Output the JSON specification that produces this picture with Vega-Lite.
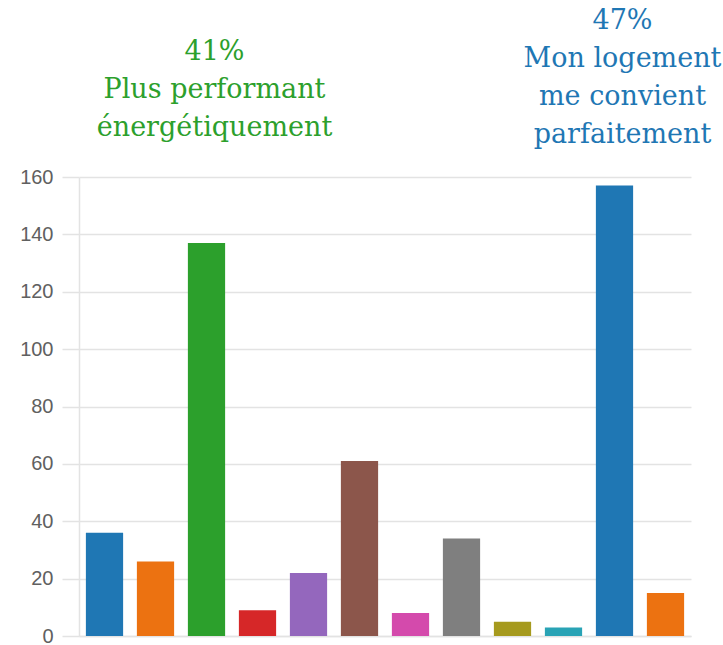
{
  "$schema": "https://vega.github.io/schema/vega-lite/v6.json",
  "width": 612,
  "height": 459,
  "autosize": {"type": "none"},
  "padding": {"left": 79, "top": 177, "right": 32, "bottom": 9},
  "background": "white",
  "config": {"view": {"stroke": null}},
  "layer": [
    {
      "data": {
        "values": [
          {"cat": "1", "value": 36},
          {"cat": "2", "value": 26},
          {"cat": "3", "value": 137},
          {"cat": "4", "value": 9},
          {"cat": "5", "value": 22},
          {"cat": "6", "value": 61},
          {"cat": "7", "value": 8},
          {"cat": "8", "value": 34},
          {"cat": "9", "value": 5},
          {"cat": "10", "value": 3},
          {"cat": "11", "value": 157},
          {"cat": "12", "value": 15}
        ]
      },
      "mark": {"type": "bar"},
      "encoding": {
        "x": {
          "field": "cat", "type": "nominal", "sort": null,
          "scale": {"paddingInner": 0.27, "paddingOuter": 0.135},
          "axis": {"labels": false, "ticks": false, "title": null, "domainColor": "#e3e3e3", "domainWidth": 1.5}
        },
        "y": {
          "field": "value", "type": "quantitative",
          "scale": {"domain": [0, 160], "nice": false},
          "axis": {
            "values": [0, 20, 40, 60, 80, 100, 120, 140, 160],
            "title": null,
            "grid": true, "gridColor": "#e3e3e3", "gridWidth": 1.5,
            "tickSize": 17, "tickColor": "#e3e3e3", "tickWidth": 1.5,
            "domainColor": "#e3e3e3", "domainWidth": 1.5,
            "labelColor": "#606060", "labelFontSize": 20, "labelFont": "Liberation Sans",
            "labelPadding": 9
          }
        },
        "color": {
          "field": "cat", "type": "nominal", "sort": null, "legend": null,
          "scale": {
            "domain": ["1","2","3","4","5","6","7","8","9","10","11","12"],
            "range": ["#1f77b4","#ec7211","#2ca02c","#d62728","#9467bd","#8c564b","#d44aac","#7f7f7f","#a69a1e","#29a3b5","#1f77b4","#ec7211"]
          }
        }
      }
    },
    {
      "data": {
        "values": [
          {"cat": "3", "pos": 208, "label": "41%\nPlus performant\nénergétiquement"},
          {"cat": "11", "pos": 219, "label": "47%\nMon logement\nme convient\nparfaitement"}
        ]
      },
      "mark": {"type": "text", "lineBreak": "\n", "lineHeight": 38, "baseline": "top", "align": "center", "font": "DejaVu Serif", "fontSize": 27, "dx": 8},
      "encoding": {
        "x": {"field": "cat", "type": "nominal", "sort": null},
        "y": {"field": "pos", "type": "quantitative"},
        "text": {"field": "label"},
        "color": {"field": "cat", "type": "nominal", "legend": null}
      }
    }
  ]
}
